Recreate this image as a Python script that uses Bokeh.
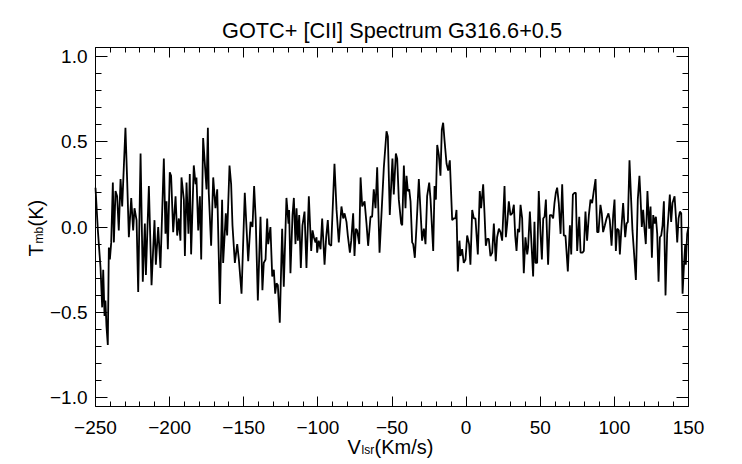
from math import pi

from bokeh.plotting import figure
from bokeh.models import Range1d, LinearAxis, FixedTicker, CustomJSTickFormatter, Label
from bokeh.embed import file_html
from bokeh.resources import INLINE

# chart texts and ticks
title_text = "GOTC+ [CII] Spectrum G316.6+0.5"
x_ticks = [-250, -200, -150, -100, -50, 0, 50, 100, 150]
x_minor = list(range(-250, 151, 10))
y_ticks = [-1.0, -0.5, 0.0, 0.5, 1.0]
y_minor = [-1.0, -0.9, -0.8, -0.7, -0.6, -0.5, -0.4, -0.3, -0.2, -0.1, 0.0,
           0.1, 0.2, 0.3, 0.4, 0.5, 0.6, 0.7, 0.8, 0.9, 1.0]

# spectrum: V_lsr (km/s) and T_mb (K)
velocity = [
    -250.0, -248.4, -246.6, -245.5, -244.8, -243.9, -243.3, -242.6, -241.7, -241.0,
    -240.3, -239.4, -238.3, -237.6, -236.5, -235.4, -234.3, -233.1, -232.0, -229.8,
    -228.6, -227.5, -225.9, -224.6, -223.7, -222.3, -221.2, -219.6, -218.1, -216.7,
    -216.0, -214.0, -212.2, -210.2, -209.3, -207.7, -206.2, -203.9, -202.8, -202.1,
    -201.2, -199.9, -199.0, -197.6, -196.0, -194.9, -193.8, -192.7, -192.0, -190.4,
    -189.7, -188.6, -187.3, -186.4, -185.5, -183.7, -182.5, -181.9, -180.7, -179.6,
    -178.7, -177.4, -175.1, -174.2, -173.6, -172.0, -170.6, -169.1, -167.9, -166.1,
    -164.6, -163.9, -162.1, -161.2, -159.6, -158.5, -157.6, -156.0, -154.4, -153.3,
    -151.5, -149.3, -147.0, -145.4, -144.1, -143.0, -141.9, -140.5, -138.7, -137.4,
    -136.5, -135.3, -134.2, -133.5, -132.0, -130.8, -129.7, -128.8, -127.9, -127.0,
    -125.7, -124.1, -123.0, -121.2, -119.8, -119.4, -118.5, -117.1, -116.2, -115.1,
    -114.4, -113.5, -112.6, -111.5, -110.4, -109.0, -107.7, -106.1, -104.5, -103.6,
    -102.7, -101.6, -100.9, -100.5, -99.4, -98.2, -97.1, -95.5, -94.4, -93.3,
    -92.4, -91.0, -88.8, -87.4, -85.9, -84.1, -82.9, -82.0, -80.7, -79.8,
    -78.4, -77.5, -76.2, -75.3, -74.4, -73.5, -72.1, -71.2, -70.1, -68.5,
    -67.2, -66.1, -64.5, -63.4, -62.3, -61.1, -60.0, -58.4, -55.5, -53.7,
    -52.8, -51.5, -49.7, -48.8, -47.4, -46.5, -45.4, -43.8, -43.1, -42.0,
    -40.9, -40.2, -39.3, -38.4, -37.5, -36.4, -35.7, -34.6, -33.5, -31.9,
    -30.8, -29.7, -28.5, -27.4, -26.3, -24.9, -24.0, -22.2, -21.3, -20.4,
    -19.5, -18.4, -17.3, -16.4, -15.5, -14.6, -13.2, -12.1, -11.0, -9.4,
    -8.3, -7.2, -6.5, -5.6, -4.5, -3.8, -2.7, -1.6, -0.4, 0.7,
    2.0, 2.9, 4.1, 5.2, 6.3, 7.9, 9.2, 10.1, 11.5, 12.4,
    13.3, 14.2, 15.3, 16.4, 17.6, 18.7, 20.0, 20.9, 22.1, 23.2,
    24.3, 25.9, 26.8, 27.7, 28.8, 29.9, 31.1, 32.2, 33.1, 34.0,
    34.9, 35.8, 36.7, 37.8, 38.9, 40.0, 41.2, 41.8, 43.0, 45.2,
    46.1, 46.8, 47.9, 49.0, 50.2, 51.1, 52.0, 52.9, 53.8, 54.7,
    55.3, 56.5, 57.6, 58.7, 59.6, 60.5, 61.4, 62.5, 63.7, 64.8,
    65.9, 67.0, 67.7, 68.6, 70.0, 70.9, 72.0, 73.1, 74.0, 74.9,
    76.3, 77.2, 78.5, 79.4, 80.5, 81.6, 82.8, 83.9, 85.0, 86.1,
    87.3, 88.4, 89.3, 90.6, 91.5, 92.4, 93.6, 94.7, 96.0, 96.9,
    98.1, 99.2, 100.1, 101.0, 101.9, 103.0, 103.7, 104.8, 105.9, 107.3,
    108.2, 109.1, 110.2, 111.3, 112.2, 113.1, 114.5, 115.8, 116.9, 117.6,
    118.5, 119.4, 120.3, 121.2, 122.3, 123.5, 124.4, 125.3, 126.2, 127.1,
    128.0, 128.9, 129.8, 130.7, 131.6, 132.5, 133.4, 134.5, 135.6, 136.5,
    137.4, 138.3, 139.2, 140.6, 141.5, 142.4, 143.3, 144.2, 145.1, 146.0,
    146.9, 147.8, 148.2, 149.1, 150.0,
]
tmb = [
    0.23, -0.02, -0.24, -0.47, -0.25, -0.52, -0.43, -0.58, -0.69, -0.12,
    -0.19, -0.09, 0.26, -0.09, 0.21, 0.18, -0.02, 0.28, 0.12, 0.58,
    0.26, -0.06, 0.17, -0.02, 0.11, 0.04, -0.38, 0.43, -0.32, 0.02,
    -0.28, 0.24, -0.34, 0.04, -0.22, 0.00, -0.24, 0.40, -0.04, 0.15,
    -0.13, 0.32, 0.30, -0.03, 0.18, -0.05, 0.05, -0.08, 0.29, 0.16,
    -0.17, 0.26, -0.04, 0.31, -0.16, 0.36, 0.25, 0.29, -0.02, 0.18,
    -0.19, 0.52, 0.22, 0.58, 0.20, -0.11, 0.29, 0.11, 0.22, -0.45,
    0.16, -0.21, 0.08, -0.05, 0.36, 0.25, 0.01, -0.21, -0.10, -0.19,
    -0.39, 0.20, -0.20, 0.03, 0.00, 0.24, 0.04, -0.43, 0.06, -0.37,
    -0.21, -0.19, 0.05, -0.10, 0.00, -0.29, -0.25, -0.39, -0.33, -0.34,
    -0.56, -0.01, -0.35, 0.17, 0.02, 0.10, -0.27, 0.07, 0.17, -0.10,
    0.11, -0.08, 0.07, -0.24, 0.01, 0.09, -0.24, 0.18, -0.14, -0.02,
    -0.06, -0.09, -0.06, -0.15, -0.08, -0.13, 0.05, -0.22, -0.06, 0.04,
    -0.10, -0.11, 0.37, 0.10, -0.09, 0.12, 0.05, 0.08, 0.03, -0.05,
    -0.15, -0.08, 0.08, -0.17, -0.01, -0.02, -0.10, 0.29, 0.12, 0.15,
    0.02, -0.11, 0.06, 0.06, 0.22, 0.11, 0.35, -0.15, 0.35, 0.56,
    0.53, 0.07, 0.40, 0.19, 0.43, 0.40, 0.16, 0.02, 0.01, 0.36,
    0.11, 0.30, 0.21, 0.22, 0.15, -0.09, -0.10, -0.18, 0.00, 0.28,
    0.10, -0.08, -0.01, -0.10, 0.18, 0.26, 0.16, -0.14, 0.24, 0.16,
    0.48, 0.42, 0.30, 0.57, 0.61, 0.51, 0.37, 0.33, 0.39, 0.04,
    0.05, 0.05, 0.10, -0.26, -0.08, -0.17, -0.13, -0.21, -0.19, -0.05,
    -0.10, -0.22, 0.10, 0.05, 0.05, -0.16, 0.21, 0.11, 0.25, 0.08,
    -0.11, -0.07, -0.07, -0.17, -0.15, 0.02, -0.20, -0.06, -0.01, -0.03,
    -0.08, 0.24, -0.06, 0.02, 0.15, 0.07, 0.08, 0.13, -0.05, -0.14,
    -0.01, -0.03, 0.13, 0.05, -0.27, -0.06, -0.16, -0.12, 0.09, -0.29,
    0.03, -0.21, -0.21, 0.21, -0.04, -0.19, 0.05, 0.06, 0.16, -0.08,
    -0.22, 0.07, 0.07, 0.05, 0.14, 0.20, 0.23, 0.14, -0.04, 0.25,
    -0.05, -0.05, -0.14, -0.26, 0.01, -0.16, 0.19, 0.20, 0.20, -0.14,
    0.06, -0.15, -0.15, -0.14, 0.09, -0.08, 0.07, 0.16, 0.14, 0.21,
    0.28, -0.03, -0.03, 0.13, 0.08, -0.03, 0.01, 0.05, 0.08, 0.04,
    -0.11, 0.07, 0.16, -0.14, -0.01, -0.02, -0.16, 0.00, 0.14, -0.06,
    0.02, 0.03, 0.39, 0.16, -0.02, -0.13, -0.31, 0.16, 0.30, 0.18,
    0.00, 0.10, -0.01, -0.10, 0.21, -0.01, 0.12, -0.18, 0.07, 0.02,
    0.06, -0.04, -0.32, -0.06, -0.05, 0.01, 0.15, -0.40, -0.04, 0.07,
    0.19, 0.03, 0.14, 0.18, 0.06, -0.09, 0.05, 0.09, 0.08, -0.39,
    -0.23, -0.10, -0.22, -0.04, 0.00,
]

FONT = "Liberation Sans"
W, H = 742, 464
# pixel box of the IDL-style frame inside the canvas
BOX_L, BOX_R, BOX_T, BOX_B = 95, 688, 47, 406
X_LO, X_HI = -250, 150
Y_LO, Y_HI = -1.05, 1.05

# the plot frame fills the canvas; axes are pinned onto the box edges
kx = (BOX_R - BOX_L) / (X_HI - X_LO)
ky = (BOX_B - BOX_T) / (Y_HI - Y_LO)
x_range = Range1d(X_LO - BOX_L / kx, X_HI + (W - BOX_R) / kx)
y_range = Range1d(Y_LO - (H - BOX_B) / ky, Y_HI + BOX_T / ky)

p = figure(width=W, height=H, x_range=x_range, y_range=y_range,
           min_border=0, output_backend="svg", toolbar_location=None)
p.xgrid.visible = False
p.ygrid.visible = False
p.outline_line_color = None
p.background_fill_color = "white"
p.border_fill_color = "white"

x_fmt = CustomJSTickFormatter(code="return (tick < 0 ? '\u2212' : '') + Math.abs(tick).toFixed(0);")
y_fmt = CustomJSTickFormatter(code="return (tick < -1e-9 ? '\u2212' : '') + Math.abs(tick).toFixed(1);")
no_fmt = CustomJSTickFormatter(code="return '';")


def style_axis(ax, ticks, minor, major_len, minor_len, fmt, standoff):
    ax.ticker = FixedTicker(ticks=ticks, minor_ticks=minor)
    ax.formatter = fmt
    ax.axis_line_color = "black"
    ax.major_tick_line_color = "black"
    ax.minor_tick_line_color = "black"
    ax.major_tick_in = major_len
    ax.major_tick_out = 0
    ax.minor_tick_in = minor_len
    ax.minor_tick_out = 0
    ax.major_label_text_font = FONT
    ax.major_label_text_font_size = "19px"
    ax.major_label_text_color = "black"
    ax.major_label_standoff = standoff


bottom = p.xaxis[0]
bottom.fixed_location = Y_LO
bottom.bounds = (X_LO, X_HI)
style_axis(bottom, x_ticks, x_minor, 10, 5, x_fmt, 14)

left = p.yaxis[0]
left.fixed_location = X_LO
left.bounds = (Y_LO, Y_HI)
style_axis(left, y_ticks, y_minor, 12, 6, y_fmt, 8)

top = LinearAxis(fixed_location=Y_HI, bounds=(X_LO, X_HI))
style_axis(top, x_ticks, x_minor, 10, 5, no_fmt, 0)
p.add_layout(top, "above")

right = LinearAxis(fixed_location=X_HI, bounds=(Y_LO, Y_HI))
style_axis(right, y_ticks, y_minor, 12, 6, no_fmt, 0)
p.add_layout(right, "right")

p.line(velocity, tmb, line_color="black", line_width=1.8)


# texts placed in canvas pixels (y measured up from the bottom)
def lab(x, y, text, size, align="left", angle=0):
    p.add_layout(Label(x=x, y=y, x_units="screen", y_units="screen", text=text,
                       angle=angle, text_font=FONT, text_font_size=size,
                       text_color="black", text_align=align,
                       text_baseline="alphabetic"))


lab((BOX_L + BOX_R) / 2, H - 30, title_text, "21.7px", align="center")
lab(347, H - 446, "V", "20px")
lab(361, H - 449, "lsr", "12px")
lab(374, H - 446, "(Km/s)", "20px")
lab(35, 208, "T", "20px", angle=pi / 2)
lab(38, 221, "mb", "12px", angle=pi / 2)
lab(35, 238, "(K)", "20px", angle=pi / 2)

open("out.html", "w").write(file_html(p, INLINE))
